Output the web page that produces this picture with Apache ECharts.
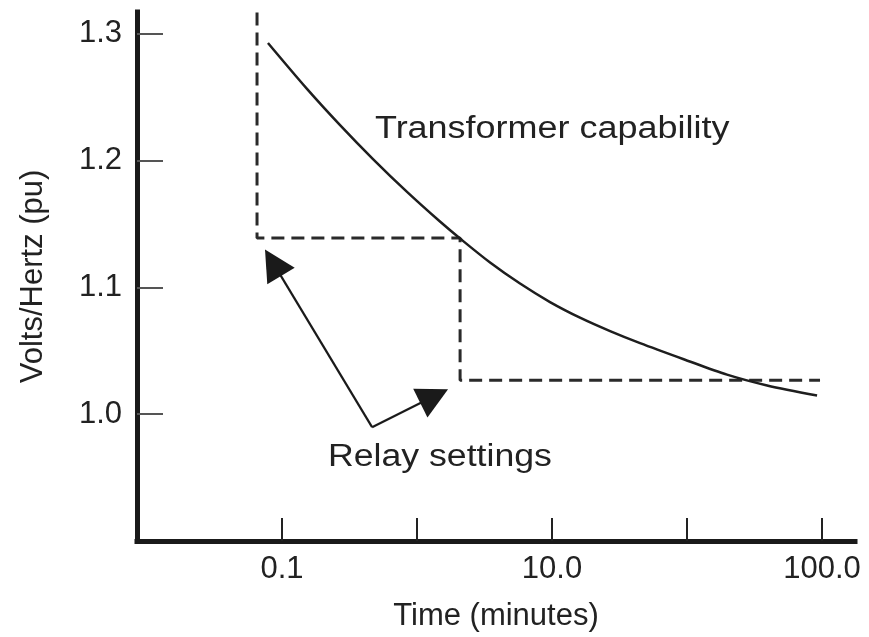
<!DOCTYPE html>
<html>
<head>
<meta charset="utf-8">
<title>Volts/Hertz – transformer capability and relay settings</title>
<script src="https://cdn.jsdelivr.net/npm/echarts@6/dist/echarts.min.js"></script>
<style>
  html, body { margin: 0; padding: 0; background: #fff; }
  #chart { width: 869px; height: 637px; }
</style>
</head>
<body>
<div id="chart"></div>
<script>
// Time axis is drawn in evenly spaced tick units; labels sit on ticks 0, 2 and 4.
const xTickValues = [0, 1, 2, 3, 4];
const xTickLabels = ['0.1', '', '10.0', '', '100.0'];
const yTickValues = [1.0, 1.1, 1.2, 1.3];

// Transformer over-excitation capability curve (time in tick units, V/Hz in pu)
const capabilityTime = [-0.104, 0.185, 0.430, 0.674, 0.926, 1.170, 1.319, 1.541, 1.763, 1.985, 2.207, 2.430, 2.652, 2.970, 3.296, 3.593, 3.963];
const capabilityVH   = [1.2929, 1.2567, 1.2281, 1.2013, 1.1754, 1.1520, 1.1386, 1.1197, 1.1031, 1.0885, 1.0762, 1.0656, 1.0561, 1.0436, 1.0312, 1.0227, 1.0148];

// Two-step relay characteristic
const relayTime = [-0.185, -0.185, 1.319, 1.319, 3.985];
const relayVH   = [1.317, 1.139, 1.139, 1.0268, 1.0268];

// Callout arrows: common origin and the two arrow tips
const arrowOrigin = [0.667, 0.9898];
const arrowTips = [[-0.126, 1.1299], [1.230, 1.0197]];

const X_MIN = -1.074, X_MAX = 4.244;
const Y_MIN = 0.9, Y_MAX = 1.3173;

const FONT = '"Liberation Sans", Arial, Helvetica, sans-serif';
const INK = '#222';

function zip(a, b) { return a.map((v, i) => [v, b[i]]); }

const chart = echarts.init(document.getElementById('chart'), null, { renderer: 'canvas' });

const option = {
  animation: false,
  backgroundColor: '#fff',
  grid: { left: 137, right: 14, top: 12, bottom: 94, containLabel: false },
  xAxis: {
    type: 'value',
    min: X_MIN,
    max: X_MAX,
    name: 'Time (minutes)',
    nameLocation: 'middle',
    nameGap: 60,
    nameTextStyle: { fontFamily: FONT, fontSize: 31, color: INK },
    axisLine: { onZero: false, lineStyle: { color: '#1a1a1a', width: 5, cap: 'square' } },
    axisTick: {
      inside: true, length: 23, customValues: xTickValues,
      lineStyle: { color: '#222', width: 2 }
    },
    axisLabel: {
      customValues: xTickValues.filter((v, i) => xTickLabels[i] !== ''),
      formatter: v => xTickLabels[xTickValues.indexOf(Math.round(v))] || '',
      fontFamily: FONT, fontSize: 31, color: INK, margin: 13
    },
    splitLine: { show: false }
  },
  yAxis: {
    type: 'value',
    min: Y_MIN,
    max: Y_MAX,
    name: 'Volts/Hertz (pu)',
    nameLocation: 'middle',
    nameGap: 88,
    nameTextStyle: { fontFamily: FONT, fontSize: 31, color: INK },
    axisLine: { onZero: false, lineStyle: { color: '#1a1a1a', width: 5, cap: 'square' } },
    axisTick: {
      inside: true, length: 26, customValues: yTickValues,
      lineStyle: { color: '#555', width: 2 }
    },
    axisLabel: {
      customValues: yTickValues,
      formatter: v => v.toFixed(1),
      fontFamily: FONT, fontSize: 31, color: INK, margin: 15
    },
    splitLine: { show: false }
  },
  series: [
    {
      name: 'Transformer capability',
      type: 'line',
      data: zip(capabilityTime, capabilityVH),
      smooth: 0.3,
      showSymbol: false,
      lineStyle: { color: '#1e1e1e', width: 2.5 },
      z: 3
    },
    {
      name: 'Relay settings',
      type: 'line',
      data: zip(relayTime, relayVH),
      showSymbol: false,
      lineStyle: { color: '#2a2a2a', width: 3, type: [13, 7] },
      z: 2
    },
    {
      name: 'Callout',
      type: 'custom',
      coordinateSystem: 'cartesian2d',
      data: [arrowOrigin],
      z: 4,
      renderItem: function (params, api) {
        const o = api.coord(arrowOrigin);
        const children = [];
        const HEAD_LEN = 31, HEAD_HALF = 16;
        arrowTips.forEach(function (t) {
          const p = api.coord(t);
          const dx = p[0] - o[0], dy = p[1] - o[1];
          const len = Math.sqrt(dx * dx + dy * dy);
          const ux = dx / len, uy = dy / len;
          const nx = -uy, ny = ux;
          const bx = p[0] - ux * HEAD_LEN, by = p[1] - uy * HEAD_LEN;
          children.push({
            type: 'line',
            shape: { x1: o[0], y1: o[1], x2: bx + ux * 4, y2: by + uy * 4 },
            style: { stroke: '#1a1a1a', lineWidth: 2.2 }
          });
          children.push({
            type: 'polygon',
            shape: { points: [
              [p[0], p[1]],
              [bx + nx * HEAD_HALF, by + ny * HEAD_HALF],
              [bx - nx * HEAD_HALF, by - ny * HEAD_HALF]
            ] },
            style: { fill: '#1a1a1a' }
          });
        });
        return { type: 'group', children: children };
      }
    }
  ],
  graphic: [
    {
      type: 'text',
      x: 375, y: 129,
      scaleX: 1.16,
      style: {
        text: 'Transformer capability',
        font: '31px ' + FONT,
        fill: INK,
        align: 'left',
        verticalAlign: 'middle'
      }
    },
    {
      type: 'text',
      x: 328, y: 457,
      scaleX: 1.15,
      style: {
        text: 'Relay settings',
        font: '31px ' + FONT,
        fill: INK,
        align: 'left',
        verticalAlign: 'middle'
      }
    }
  ]
};

chart.setOption(option);
</script>
</body>
</html>
